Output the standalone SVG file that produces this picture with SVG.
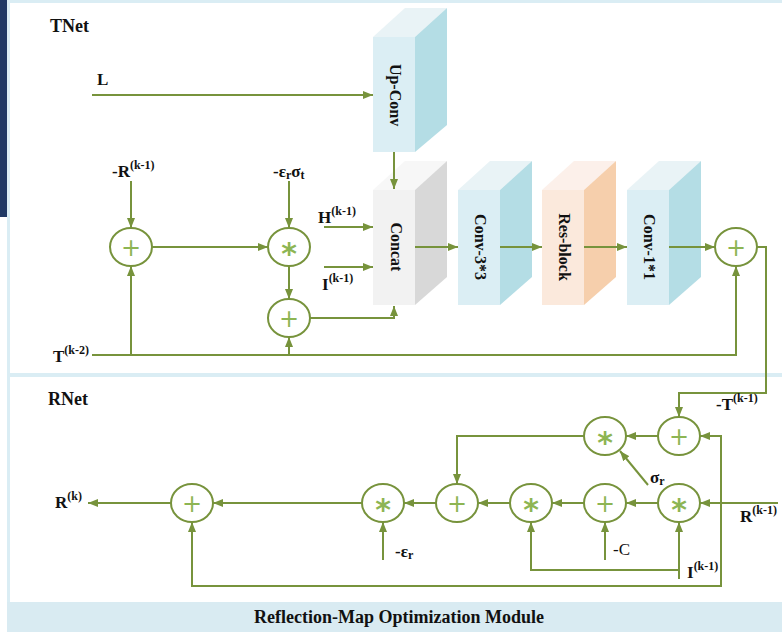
<svg xmlns="http://www.w3.org/2000/svg" width="782" height="632" viewBox="0 0 782 632">
<defs>
<marker id="ah" viewBox="0 0 10 8" refX="10" refY="4" markerWidth="10" markerHeight="8" markerUnits="userSpaceOnUse" orient="auto"><path d="M0,0 L10,4 L0,8 z" fill="#77933c"/></marker>
<style>
.ln{fill:none;stroke:#77933c;stroke-width:2;marker-end:url(#ah)}
.op{fill:#fff;stroke:#77933c;stroke-width:2}
.sym{font-family:"DejaVu Sans",sans-serif;fill:#8db553;text-anchor:middle}
.lbl{font-family:"Liberation Serif","Times New Roman",serif;font-weight:bold;font-size:17px;fill:#111}
.sup{font-size:12px}
.blk{font-family:"Liberation Serif","Times New Roman",serif;font-weight:bold;font-size:16px;fill:#111;text-anchor:middle;dominant-baseline:central}
.ttl{font-family:"Liberation Serif","Times New Roman",serif;font-weight:bold;font-size:18px;fill:#111}
.fb{fill:#dbeef4}.tb{fill:#e9f3f6}.sb{fill:#b4dde5}
.fg{fill:#f2f2f2}.tg{fill:#f7f7f7}.sg{fill:#d8d8d8}
.fo{fill:#fbe9dc}.to{fill:#fcf0ea}.so{fill:#f6cfac}
</style>
</defs>
<rect x="0" y="0" width="782" height="632" fill="#fff"/>
<g id="frame">
<rect x="7" y="0" width="775" height="3" fill="#daedf4"/>
<rect x="7" y="0" width="3" height="632" fill="#daedf4"/>
<rect x="7" y="373" width="775" height="4" fill="#daedf4"/>
<rect x="7" y="602" width="775" height="30" fill="#d9ebf2"/>
<rect x="0" y="0" width="7" height="217" fill="#1f3864"/>
<text class="ttl" x="399" y="623" text-anchor="middle">Reflection-Map Optimization Module</text>
<text class="ttl" x="50" y="32">TNet</text>
<text class="ttl" x="48" y="405">RNet</text>
</g>
<g id="upconv">
<polygon class="tb" points="373,37 415,37 447,8 405,8"/>
<polygon class="sb" points="415,37 447,8 447,125 415,152"/>
<rect class="fb" x="373" y="37" width="42" height="115"/>
<text class="blk" transform="translate(395,95) rotate(90)">Up-Conv</text>
</g>
<g id="concat">
<polygon class="tg" points="373,190 415,190 447,161 405,161"/>
<polygon class="sg" points="415,190 447,161 447,277 415,305"/>
<rect class="fg" x="373" y="190" width="42" height="115"/>
<text class="blk" transform="translate(396,247) rotate(90)">Concat</text>
</g>
<g id="conv33">
<polygon class="tb" points="458,190 500,190 532,161 490,161"/>
<polygon class="sb" points="500,190 532,161 532,277 500,305"/>
<rect class="fb" x="458" y="190" width="42" height="115"/>
<text class="blk" transform="translate(480,247) rotate(90)">Conv-3*3</text>
</g>
<g id="resblock">
<polygon class="to" points="542,190 584,190 616,161 574,161"/>
<polygon class="so" points="584,190 616,161 616,277 584,305"/>
<rect class="fo" x="542" y="190" width="42" height="115"/>
<text class="blk" transform="translate(564,247) rotate(90)">Res-block</text>
</g>
<g id="conv11">
<polygon class="tb" points="627,190 669,190 701,161 659,161"/>
<polygon class="sb" points="669,190 701,161 701,277 669,305"/>
<rect class="fb" x="627" y="190" width="42" height="115"/>
<text class="blk" transform="translate(649,247) rotate(90)">Conv-1*1</text>
</g>
<g id="connectors">
<path class="ln" d="M92,95 H373"/>
<path class="ln" d="M394,152 V189"/>
<path class="ln" d="M131,181 V228"/>
<path class="ln" d="M152,247 H268"/>
<path class="ln" d="M289,181 V228"/>
<path class="ln" d="M289,266 V299"/>
<path class="ln" d="M310,318 H394 V306"/>
<path class="ln" d="M324,227 H373"/>
<path class="ln" d="M324,267 H373"/>
<path class="ln" d="M92,355 H736 V266"/>
<path class="ln" d="M131,355 V266"/>
<path class="ln" d="M289,355 V337"/>
<path class="ln" d="M415,247 H458"/>
<path class="ln" d="M500,247 H542"/>
<path class="ln" d="M584,247 H627"/>
<path class="ln" d="M669,247 H715"/>
<path class="ln" d="M757,247 H766 V393 H679 V417"/>
<path class="ln" d="M658,436 H626"/>
<path class="ln" d="M584,436 H457 V484"/>
<path class="ln" d="M778,503 H700"/>
<path class="ln" d="M721,503 V436 H700"/>
<path class="ln" d="M721,503 V586 H192 V522"/>
<path class="ln" d="M658,503 H626"/>
<path class="ln" d="M584,503 H552"/>
<path class="ln" d="M510,503 H478"/>
<path class="ln" d="M436,503 H404"/>
<path class="ln" d="M362,503 H213"/>
<path class="ln" d="M171,503 H88"/>
<path class="ln" d="M648,485 L620,451"/>
<path class="ln" d="M605,560 V522"/>
<path class="ln" d="M679,579 V522"/>
<path class="ln" d="M679,570 H531 V522"/>
<path class="ln" d="M383,560 V522"/>
</g>
<g id="plusA"><ellipse class="op" cx="131" cy="247" rx="21" ry="19"/><text class="sym" x="131" y="256" font-size="24">+</text></g>
<g id="starB"><ellipse class="op" cx="289" cy="247" rx="21" ry="19"/><text class="sym" x="289" y="264" font-size="30" font-weight="bold">*</text></g>
<g id="plusC"><ellipse class="op" cx="289" cy="318" rx="21" ry="19"/><text class="sym" x="289" y="327" font-size="24">+</text></g>
<g id="plusD"><ellipse class="op" cx="736" cy="247" rx="21" ry="19"/><text class="sym" x="736" y="256" font-size="24">+</text></g>
<g id="plusE"><ellipse class="op" cx="679" cy="436" rx="21" ry="19"/><text class="sym" x="679" y="445" font-size="24">+</text></g>
<g id="starF"><ellipse class="op" cx="605" cy="436" rx="21" ry="19"/><text class="sym" x="605" y="453" font-size="30" font-weight="bold">*</text></g>
<g id="starH"><ellipse class="op" cx="679" cy="503" rx="21" ry="19"/><text class="sym" x="679" y="520" font-size="30" font-weight="bold">*</text></g>
<g id="plusI"><ellipse class="op" cx="605" cy="503" rx="21" ry="19"/><text class="sym" x="605" y="512" font-size="24">+</text></g>
<g id="starJ"><ellipse class="op" cx="531" cy="503" rx="21" ry="19"/><text class="sym" x="531" y="520" font-size="30" font-weight="bold">*</text></g>
<g id="plusG"><ellipse class="op" cx="457" cy="503" rx="21" ry="19"/><text class="sym" x="457" y="512" font-size="24">+</text></g>
<g id="starK"><ellipse class="op" cx="383" cy="503" rx="21" ry="19"/><text class="sym" x="383" y="520" font-size="30" font-weight="bold">*</text></g>
<g id="plusL"><ellipse class="op" cx="192" cy="503" rx="21" ry="19"/><text class="sym" x="192" y="512" font-size="24">+</text></g>
<g id="labels">
<text class="lbl" x="97" y="85">L</text>
<text class="lbl" x="112" y="177">-R<tspan class="sup" dy="-8">(k-1)</tspan></text>
<text class="lbl" x="273" y="177">-ε<tspan class="sup" dy="2">r</tspan><tspan dy="-2">σ</tspan><tspan class="sup" dy="2">t</tspan></text>
<text class="lbl" x="318" y="223">H<tspan class="sup" dy="-8">(k-1)</tspan></text>
<text class="lbl" x="322" y="290">I<tspan class="sup" dy="-8">(k-1)</tspan></text>
<text class="lbl" x="53" y="362">T<tspan class="sup" dy="-8">(k-2)</tspan></text>
<text class="lbl" x="716" y="410">-T<tspan class="sup" dy="-8">(k-1)</tspan></text>
<text class="lbl" x="740" y="522">R<tspan class="sup" dy="-8">(k-1)</tspan></text>
<text class="lbl" x="650" y="483">σ<tspan class="sup" dy="2">r</tspan></text>
<text x="613" y="555" font-family="Liberation Serif,serif" font-size="17" fill="#111">-C</text>
<text class="lbl" x="687" y="578">I<tspan class="sup" dy="-8">(k-1)</tspan></text>
<text class="lbl" x="395" y="557">-ε<tspan class="sup" dy="2">r</tspan></text>
<text class="lbl" x="55" y="508">R<tspan class="sup" dy="-8">(k)</tspan></text>
</g>
</svg>
